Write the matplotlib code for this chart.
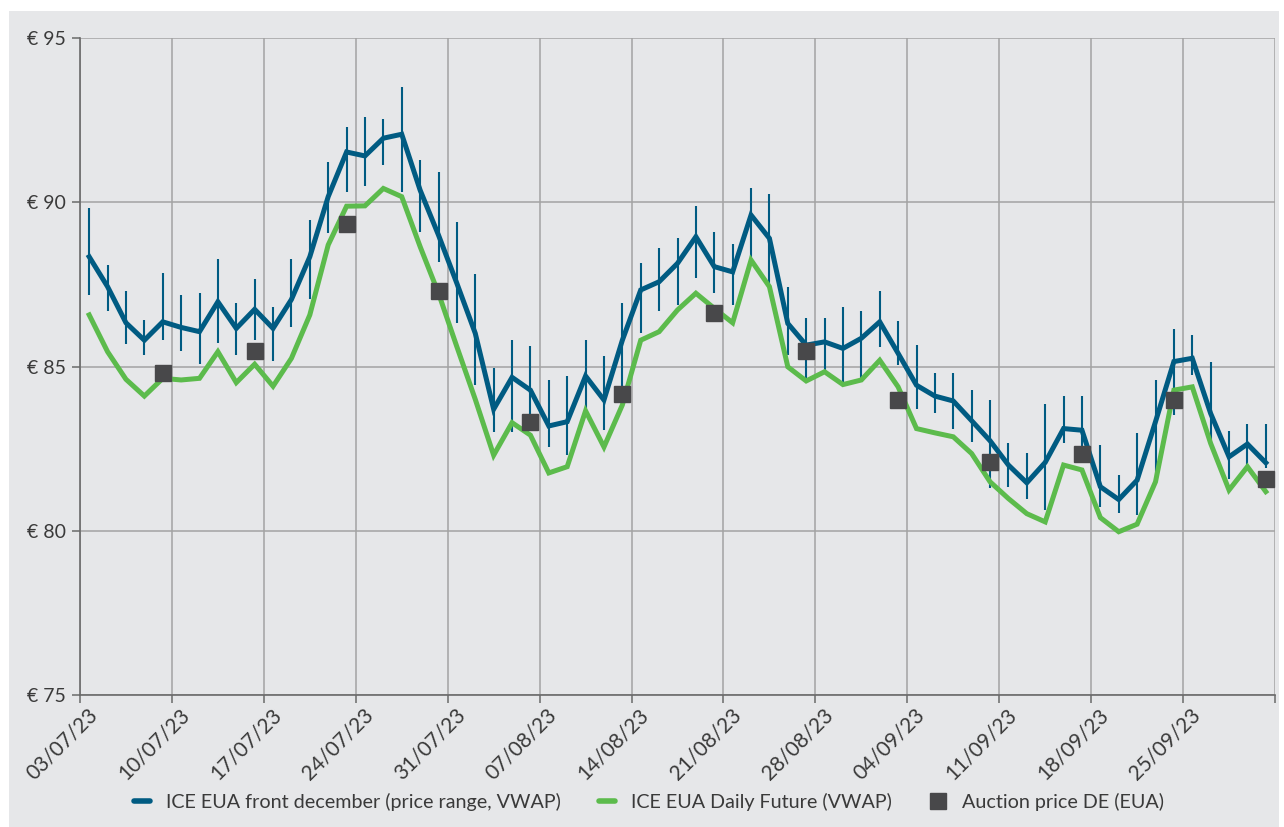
import matplotlib
matplotlib.use("Agg")
import matplotlib.pyplot as plt
import matplotlib.transforms as mtransforms
from matplotlib.patches import Rectangle
from matplotlib.lines import Line2D
import numpy as np

plt.rcParams['font.family'] = ['Lato', 'DejaVu Sans']

# weekly tick labels (Mondays), 5 trading days per week
week_labels = ['03/07/23', '10/07/23', '17/07/23', '24/07/23', '31/07/23', '07/08/23',
               '14/08/23', '21/08/23', '28/08/23', '04/09/23', '11/09/23', '18/09/23', '25/09/23']

# ICE EUA front december VWAP, daily high / low
vwap = [88.34, 87.43, 86.33, 85.80, 86.36, 86.19, 86.06, 86.97, 86.16, 86.74,
        86.16, 87.04, 88.34, 90.17, 91.53, 91.41, 91.95, 92.07, 90.37, 89.00,
        87.53, 86.01, 83.70, 84.67, 84.28, 83.19, 83.32, 84.71, 83.98, 85.80,
        87.33, 87.58, 88.14, 88.95, 88.04, 87.88, 89.61, 88.90, 86.31, 85.65,
        85.75, 85.55, 85.86, 86.36, 85.40, 84.43, 84.10, 83.95, 83.35, 82.74,
        82.00, 81.46, 82.08, 83.11, 83.06, 81.34, 80.95, 81.54, 83.32, 85.15,
        85.25, 83.57, 82.25, 82.64, 82.07]
high = [89.81, 88.09, 87.30, 86.43, 87.85, 87.17, 87.23, 88.28, 86.92, 87.65,
        86.80, 88.28, 89.46, 91.23, 92.28, 92.59, 92.53, 93.50, 91.29, 90.91,
        89.39, 87.83, 84.94, 85.80, 85.62, 84.59, 84.71, 85.82, 85.32, 86.92,
        88.16, 88.60, 88.90, 89.88, 89.08, 88.72, 90.42, 90.25, 87.43, 86.49,
        86.49, 86.82, 86.69, 87.30, 86.38, 85.65, 84.79, 84.79, 84.28, 83.98,
        82.68, 82.37, 83.86, 84.10, 84.10, 82.61, 81.69, 82.98, 84.59, 86.13,
        85.96, 85.15, 83.04, 83.25, 83.25]
low = [87.17, 86.70, 85.70, 85.34, 85.82, 85.47, 85.09, 85.72, 85.34, 85.80,
       85.16, 86.21, 87.07, 89.05, 90.32, 90.50, 91.13, 90.32, 89.10, 88.19,
       86.33, 84.43, 83.01, 83.01, 83.20, 82.55, 82.30, 83.69, 83.06, 84.40,
       86.01, 86.70, 86.87, 87.68, 87.24, 86.87, 88.34, 87.40, 85.35, 84.54,
       84.87, 84.54, 84.61, 85.60, 85.04, 83.72, 83.57, 83.11, 82.71, 81.29,
       81.34, 80.98, 80.63, 82.66, 82.30, 80.73, 80.55, 80.48, 81.49, 83.52,
       84.74, 82.76, 81.59, 81.95, 81.90]
# ICE EUA Daily Future VWAP
daily = [86.57, 85.45, 84.61, 84.10, 84.64, 84.59, 84.64, 85.45, 84.51, 85.07,
         84.40, 85.25, 86.57, 88.70, 89.88, 89.89, 90.42, 90.17, 88.65, 87.23,
         85.60, 84.00, 82.30, 83.29, 82.91, 81.76, 81.95, 83.65, 82.55, 83.83,
         85.80, 86.06, 86.72, 87.23, 86.77, 86.33, 88.24, 87.43, 84.99, 84.56,
         84.84, 84.45, 84.59, 85.19, 84.38, 83.11, 82.98, 82.86, 82.35, 81.49,
         80.98, 80.52, 80.27, 82.00, 81.85, 80.40, 79.97, 80.20, 81.49, 84.28,
         84.38, 82.66, 81.24, 81.95, 81.19]
# German auction price, Fridays
auction = [84.79, 85.47, 89.34, 87.31, 83.32, 84.16, 86.64, 85.48, 83.98,
           82.10, 82.33, 83.98, 81.57]

blue = '#005B82'
green = '#5CBB4C'
sq = '#48484A'
bg = '#E6E7E9'
txt = '#3A3A3A'

fig = plt.figure(figsize=(12.84, 8.27), dpi=100, facecolor='white')
fig.patches.append(Rectangle((9 / 1284, 0), 1270 / 1284, 816 / 827,
                             transform=fig.transFigure, facecolor=bg,
                             edgecolor='none', zorder=-10))
ax = fig.add_axes([80 / 1284, 1 - 695 / 827, 1195 / 1284, 657 / 827])
ax.set_facecolor(bg)

x = np.arange(len(vwap))
ax.vlines(x, low, high, color=blue, lw=1.5, zorder=3)
ax.plot(x, vwap, color=blue, lw=3.6, zorder=4, solid_joinstyle='miter')
ax.plot(x, daily, color=green, lw=3.6, zorder=4, solid_joinstyle='miter')
ax.plot(x[4::5], auction, ls='none', marker='s', ms=11.5, color=sq, zorder=5)

ax.set_xlim(-0.5, len(vwap) - 0.5)
ax.set_ylim(75, 95)
ax.set_yticks([75, 80, 85, 90, 95])
ax.set_yticklabels(['€ 75', '€ 80', '€ 85', '€ 90', '€ 95'])
ax.set_xticks(np.arange(-0.5, len(vwap), 5))
ax.set_xticklabels(week_labels + [''], rotation=45, ha='right', rotation_mode='anchor',
                   fontsize=15)

ax.grid(True, color='#A3A3A3', lw=1.1, zorder=0)
for s in ['top', 'right']:
    ax.spines[s].set_visible(False)
ax.spines['left'].set_color('#6A6A6A')
ax.spines['bottom'].set_color('#6A6A6A')
ax.spines['left'].set_linewidth(1.2)
ax.spines['bottom'].set_linewidth(1.2)
ax.tick_params(axis='both', colors='#6A6A6A', labelcolor=txt,
               length=6, width=1.1)
ax.tick_params(axis='y', pad=4, labelsize=14)
ax.tick_params(axis='x', pad=3)

# nudge the rotated date labels so their ends sit just right of the tick
shift = mtransforms.ScaledTranslation(7 / 100, 3 / 100, fig.dpi_scale_trans)
for lbl in ax.get_xticklabels():
    lbl.set_transform(lbl.get_transform() + shift)

handles = [Line2D([], [], color=blue, lw=4, solid_capstyle='round'),
           Line2D([], [], color=green, lw=4, solid_capstyle='round'),
           Line2D([], [], ls='none', marker='s', ms=12, color=sq)]
labels = ['ICE EUA front december (price range, VWAP)',
          'ICE EUA Daily Future (VWAP)', 'Auction price DE (EUA)']
fig.legend(handles, labels, loc='center', bbox_to_anchor=(649 / 1284, 1 - 802 / 827),
           ncol=3, frameon=False, fontsize=14.2, handlelength=0.8,
           columnspacing=1.9, handletextpad=0.85, labelcolor=txt)

fig.savefig('out.png', dpi=100, facecolor='white')
